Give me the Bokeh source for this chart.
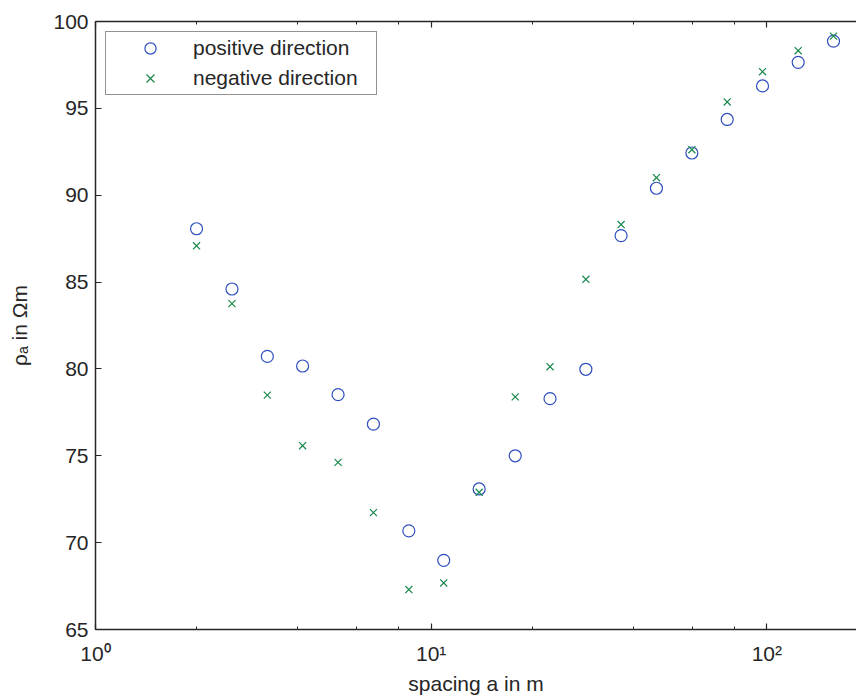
from bokeh.plotting import figure
from bokeh.models import (LogAxis, LogTicker, FixedTicker, Legend, LegendItem,
                          Range1d)
from bokeh.embed import file_html
from bokeh.resources import INLINE

# ---- data ----
spacing = [2.0, 2.55, 3.25, 4.14, 5.28, 6.73, 8.58, 10.9, 13.9, 17.8,
           22.6, 28.9, 36.8, 46.9, 59.8, 76.2, 97.1, 124.0, 158.0]
rho_pos = [88.07, 84.60, 80.72, 80.17, 78.52, 76.82, 70.68, 68.98, 73.09, 75.00,
           78.29, 79.98, 87.67, 90.40, 92.43, 94.36, 96.29, 97.65, 98.87]
rho_neg = [87.09, 83.76, 78.49, 75.58, 74.62, 71.73, 67.30, 67.68, 72.90, 78.39,
           80.13, 85.16, 88.31, 91.01, 92.62, 95.37, 97.11, 98.32, 99.16]
xtick_vals = [1, 10, 100]
xtick_labels = ["10⁰", "10¹", "10²"]
ytick_vals = [65, 70, 75, 80, 85, 90, 95, 100]
x_lim = (1, 185)
y_lim = (65, 100)

FONT = "Liberation Sans"
TXT = "#262626"
BLUE = "#2f4fbf"
GREEN = "#17884a"

p = figure(width=856, height=697, x_axis_type="log",
           x_range=Range1d(*x_lim), y_range=Range1d(*y_lim),
           output_backend="svg", toolbar_location=None,
           min_border_left=95, min_border_right=0, min_border_top=21,
           min_border_bottom=66)
p.outline_line_color = None
p.grid.visible = False
p.background_fill_color = "white"

r1 = p.scatter(spacing, rho_pos, marker="circle", size=12, fill_color=None,
               line_color=BLUE, line_width=1.2)
r2 = p.scatter(spacing, rho_neg, marker="x", size=10,
               line_color=GREEN, line_width=1.2)

def style_axis(ax):
    ax.axis_line_color = TXT
    ax.axis_line_width = 1.5
    ax.major_tick_line_color = TXT
    ax.minor_tick_line_color = TXT
    ax.major_tick_line_width = 1.2
    ax.minor_tick_line_width = 1.0
    ax.major_tick_in = 6
    ax.major_tick_out = 0
    ax.minor_tick_in = 3
    ax.minor_tick_out = 0
    ax.major_label_text_font = FONT
    ax.major_label_text_color = TXT
    ax.axis_label_text_font = FONT
    ax.axis_label_text_color = TXT
    ax.axis_label_text_font_style = "normal"

xb = p.xaxis[0]
style_axis(xb)
xb.ticker = LogTicker()
xb.major_label_overrides = {v: s for v, s in zip(xtick_vals, xtick_labels)}
xb.major_label_text_font_size = "21px"
xb.major_label_standoff = 12
xb.axis_label = "spacing a in m"
xb.axis_label_text_font_size = "21px"
xb.axis_label_standoff = 4

yl = p.yaxis[0]
style_axis(yl)
yl.ticker = FixedTicker(ticks=ytick_vals)
yl.minor_tick_line_color = None
yl.major_label_text_font_size = "21px"
yl.major_label_standoff = 7
yl.axis_label = "ρₐ in Ωm"
yl.axis_label_text_font_size = "21px"
yl.axis_label_standoff = 19

top = LogAxis(ticker=LogTicker())
style_axis(top)
top.major_label_text_font_size = "2px"
top.major_label_text_color = None
top.major_label_standoff = 1
p.add_layout(top, "above")

legend = Legend(items=[LegendItem(label="positive direction", renderers=[r1]),
                       LegendItem(label="negative direction", renderers=[r2])],
                location="top_left", margin=10, padding=2, spacing=2,
                glyph_height=28, glyph_width=84, label_height=28,
                label_width=181, label_standoff=1,
                border_line_color=TXT, border_line_width=1.2,
                background_fill_color="white", background_fill_alpha=1.0,
                label_text_font=FONT, label_text_font_size="21px",
                label_text_color=TXT)
p.add_layout(legend)

open("out.html", "w").write(file_html(p, INLINE))
